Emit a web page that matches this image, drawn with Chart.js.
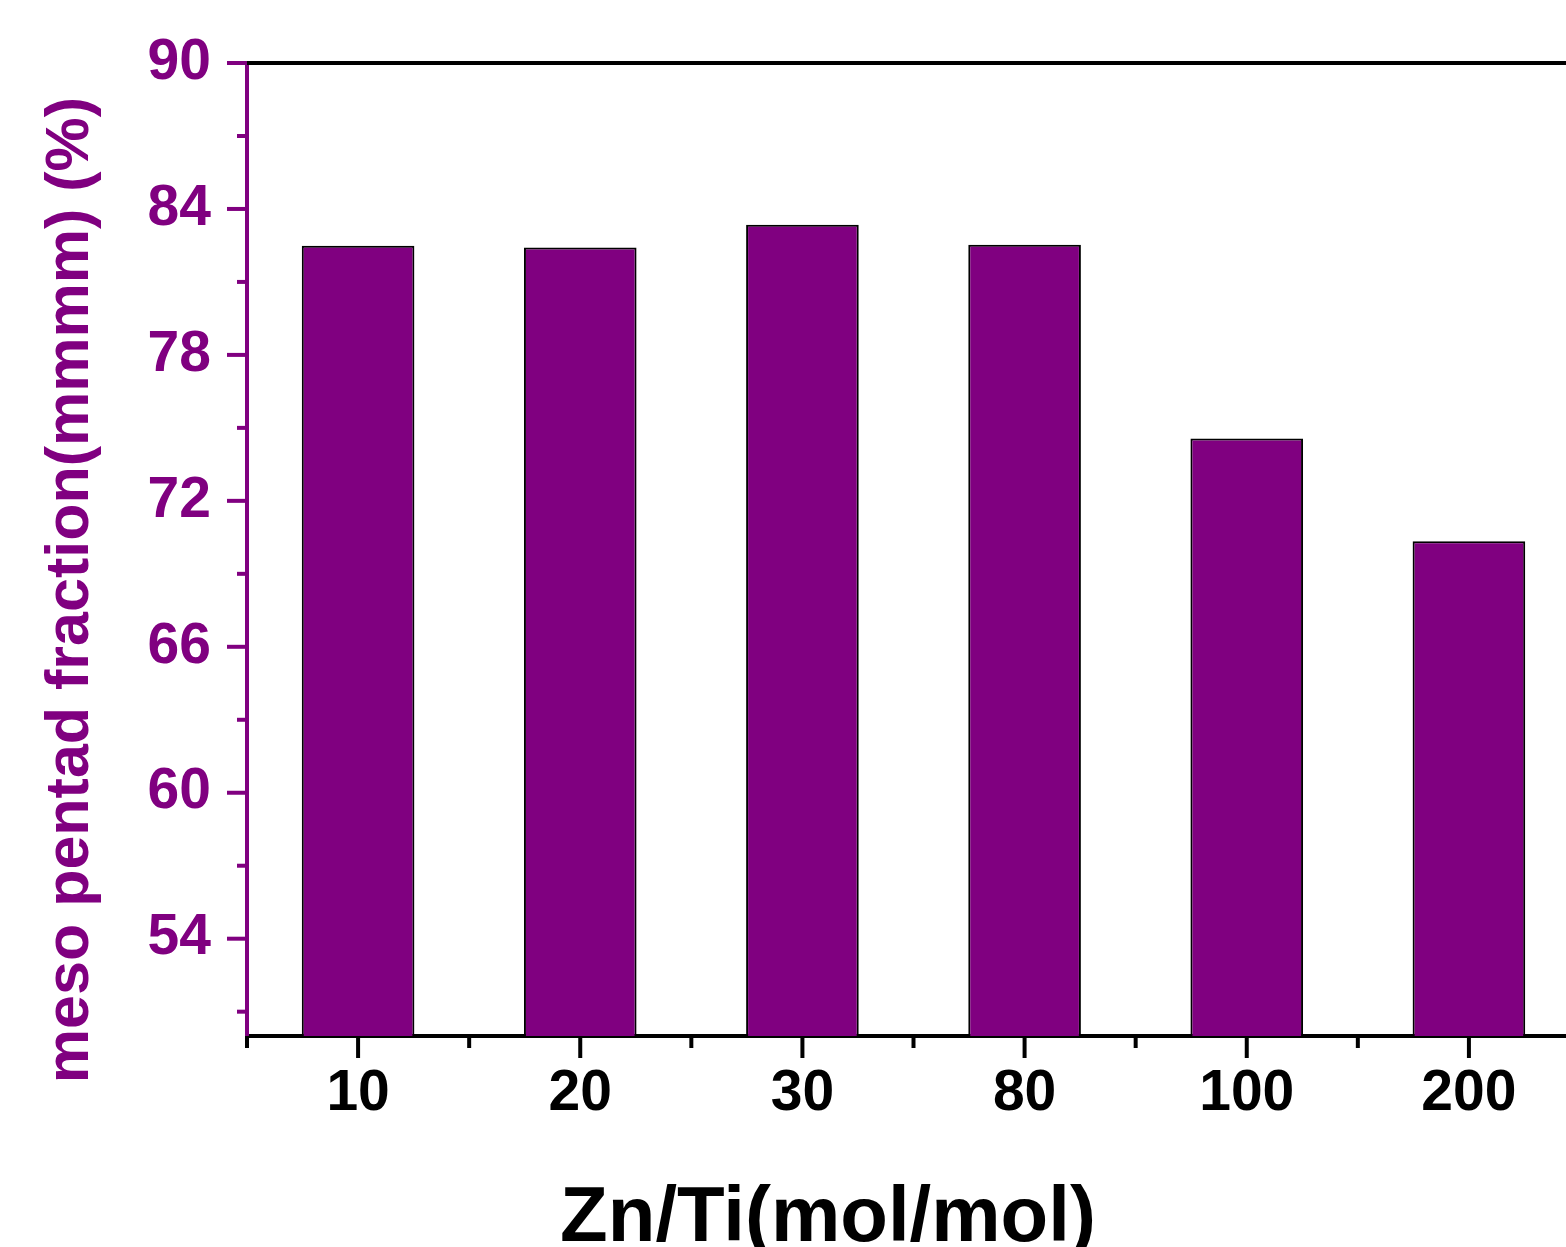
<!DOCTYPE html>
<html>
<head>
<meta charset="utf-8">
<script src="https://cdn.jsdelivr.net/npm/chart.js@4/dist/chart.umd.min.js"></script>
<style>
  html, body { margin: 0; padding: 0; overflow: hidden; background: #fff; }
  #wrap { position: absolute; left: 0; top: 0; width: 1600px; height: 1247px; }
</style>
</head>
<body>
<div id="wrap"><canvas id="pentadChart" width="1600" height="1247"></canvas></div>
<script>
var ratios = ['10', '20', '30', '80', '100', '200'];
var mmmm = [82.49, 82.42, 83.35, 82.53, 74.56, 70.34];
var yMajorTicks = [54, 60, 66, 72, 78, 84, 90];
var yMinorTicks = [51, 57, 63, 69, 75, 81, 87];

var purple = '#800080';
var fontFamily = '"Liberation Sans", Arial, sans-serif';

// tick marks, frame line and axis titles
var decorations = {
    id: 'decorations',
    afterDraw: function(chart) {
        var ctx = chart.ctx;
        var area = chart.chartArea;
        var x = chart.scales.x;
        var y = chart.scales.y;
        ctx.save();
        ctx.lineCap = 'butt';
        ctx.lineWidth = 4;

        // top frame
        ctx.strokeStyle = '#000';
        ctx.beginPath();
        ctx.moveTo(area.left - 2, area.top);
        ctx.lineTo(area.right, area.top);
        ctx.stroke();

        // y ticks (outward, left)
        ctx.strokeStyle = purple;
        yMajorTicks.forEach(function(v) {
            var py = y.getPixelForValue(v);
            ctx.beginPath();
            ctx.moveTo(area.left - 20, py);
            ctx.lineTo(area.left, py);
            ctx.stroke();
        });
        yMinorTicks.forEach(function(v) {
            var py = y.getPixelForValue(v);
            ctx.beginPath();
            ctx.moveTo(area.left - 10, py);
            ctx.lineTo(area.left, py);
            ctx.stroke();
        });

        // x ticks: major at categories, minor at boundaries
        ctx.strokeStyle = '#000';
        var step = (area.right - area.left) / ratios.length;
        ratios.forEach(function(r, i) {
            var px = x.getPixelForValue(i);
            ctx.beginPath();
            ctx.moveTo(px, area.bottom);
            ctx.lineTo(px, area.bottom + 22);
            ctx.stroke();
        });
        for (var k = 0; k <= ratios.length; k++) {
            var bx = area.left + k * step;
            ctx.beginPath();
            ctx.moveTo(bx, area.bottom);
            ctx.lineTo(bx, area.bottom + 12);
            ctx.stroke();
        }

        // axis titles
        ctx.fillStyle = '#000';
        ctx.font = 'bold 78px ' + fontFamily;
        ctx.textAlign = 'center';
        ctx.textBaseline = 'alphabetic';
        ctx.fillText('Zn/Ti(mol/mol)', 828, 1241);

        ctx.fillStyle = purple;
        ctx.font = 'bold 61px ' + fontFamily;
        ctx.translate(88, 590);
        ctx.rotate(-Math.PI / 2);
        ctx.fillText('meso pentad fraction(mmmm) (%)', 0, 0);
        ctx.restore();
    }
};

var ctx = document.getElementById('pentadChart').getContext('2d');
var pentadChart = new Chart(ctx, {
    type: 'bar',
    data: {
        labels: ratios,
        datasets: [{
            label: 'mmmm',
            data: mmmm,
            backgroundColor: purple,
            borderColor: '#000',
            borderWidth: 2,
            categoryPercentage: 1,
            barPercentage: 0.507
        }]
    },
    options: {
        responsive: false,
        animation: false,
        layout: { padding: { left: 0, top: 63, right: 20, bottom: 0 } },
        plugins: {
            legend: { display: false },
            tooltip: { enabled: false }
        },
        scales: {
            x: {
                grid: { display: false, drawTicks: false },
                border: { display: true, color: '#000', width: 4 },
                ticks: {
                    color: '#000',
                    padding: 24,
                    maxRotation: 0,
                    font: { family: fontFamily, size: 57, weight: 'bold', lineHeight: 1.2 }
                },
                afterFit: function(scale) { scale.height = 211; }
            },
            y: {
                min: 50,
                max: 90,
                grid: { display: false, drawTicks: false },
                border: { display: true, color: purple, width: 4 },
                ticks: {
                    color: purple,
                    padding: 36,
                    font: { family: fontFamily, size: 57, weight: 'bold', lineHeight: 0.8 }
                },
                afterBuildTicks: function(scale) {
                    scale.ticks = yMajorTicks.map(function(v) { return { value: v }; });
                },
                afterFit: function(scale) { scale.width = 247; }
            }
        }
    },
    plugins: [decorations]
});
</script>
</body>
</html>
